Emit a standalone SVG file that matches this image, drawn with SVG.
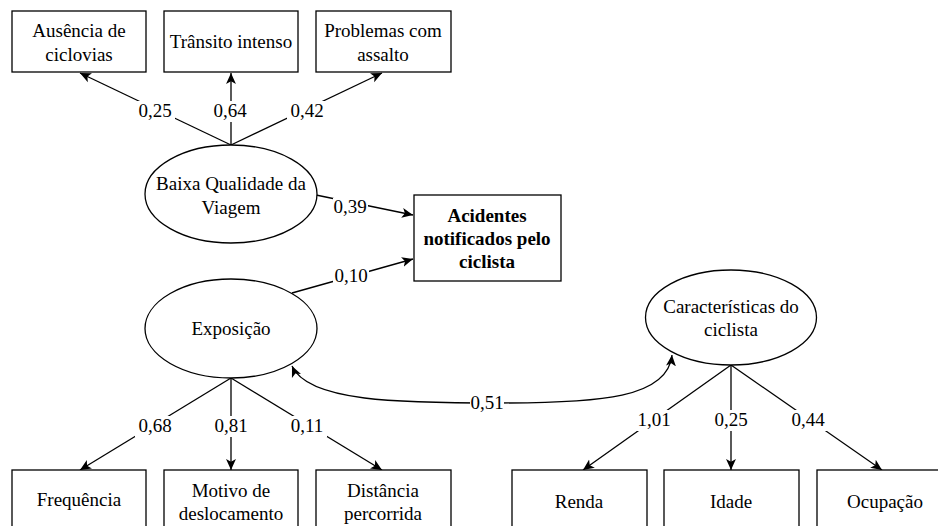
<svg xmlns="http://www.w3.org/2000/svg" width="938" height="526" viewBox="0 0 938 526">
<style>
text{font-family:"Liberation Serif","Times New Roman","DejaVu Serif",serif;font-size:19px;fill:#000;text-anchor:middle}
.b{font-weight:bold}
.box,.ell{fill:#fff;stroke:#000;stroke-width:1.3}
.ln{stroke:#000;stroke-width:1.3;fill:none}
.bg{fill:#fff}
</style>
<defs>
<marker id="ah" viewBox="0 0 10 10" refX="10" refY="5" markerWidth="11" markerHeight="11" markerUnits="userSpaceOnUse" orient="auto">
<path d="M0,0.5 L10,5 L0,9.5 L2.5,5 Z" fill="#000"/>
</marker>
</defs>
<g id="connectors">
<line class="ln" x1="231" y1="145" x2="80" y2="73" marker-end="url(#ah)"/>
<line class="ln" x1="231" y1="145" x2="231" y2="73" marker-end="url(#ah)"/>
<line class="ln" x1="231" y1="145" x2="382" y2="73" marker-end="url(#ah)"/>
<line class="ln" x1="316" y1="195" x2="413" y2="215" marker-end="url(#ah)"/>
<line class="ln" x1="292" y1="293" x2="413" y2="259" marker-end="url(#ah)"/>
<line class="ln" x1="231" y1="378" x2="80" y2="470" marker-end="url(#ah)"/>
<line class="ln" x1="231" y1="378" x2="231" y2="470" marker-end="url(#ah)"/>
<line class="ln" x1="231" y1="378" x2="382" y2="470" marker-end="url(#ah)"/>
<line class="ln" x1="731" y1="365" x2="583" y2="470" marker-end="url(#ah)"/>
<line class="ln" x1="731" y1="365" x2="731" y2="470" marker-end="url(#ah)"/>
<line class="ln" x1="731" y1="365" x2="882" y2="470" marker-end="url(#ah)"/>
<path class="ln" d="M500,403 C400,403 308,402 292,366" marker-end="url(#ah)"/>
<path class="ln" d="M500,403 C600,403 668,398 672,355" marker-end="url(#ah)"/>
<g id="labels">
<rect class="bg" x="135" y="101" width="40" height="21"/><text x="155" y="117">0,25</text>
<rect class="bg" x="210" y="101" width="40" height="21"/><text x="230" y="117">0,64</text>
<rect class="bg" x="287" y="101" width="40" height="21"/><text x="307" y="117">0,42</text>
<rect class="bg" x="333" y="198" width="35" height="18"/><text x="350" y="213">0,39</text>
<rect class="bg" x="333" y="267" width="36" height="18"/><text x="351" y="282">0,10</text>
<rect class="bg" x="135" y="416" width="40" height="21"/><text x="155" y="432">0,68</text>
<rect class="bg" x="211" y="416" width="40" height="21"/><text x="231" y="432">0,81</text>
<rect class="bg" x="287" y="416" width="40" height="21"/><text x="307" y="432">0,11</text>
<rect class="bg" x="470" y="394" width="34" height="18"/><text x="487" y="409">0,51</text>
<rect class="bg" x="634" y="410" width="40" height="21"/><text x="654" y="426">1,01</text>
<rect class="bg" x="711" y="410" width="40" height="21"/><text x="731" y="426">0,25</text>
<rect class="bg" x="788" y="410" width="40" height="21"/><text x="808" y="426">0,44</text>
</g>
</g>
<g id="n-ausencia"><rect class="box" x="12" y="11" width="134" height="61"/><text x="79" y="37">Ausência de</text><text x="79" y="61">ciclovias</text></g>
<g id="n-transito"><rect class="box" x="164" y="11" width="134" height="61"/><text x="231" y="48">Trânsito intenso</text></g>
<g id="n-problemas"><rect class="box" x="316" y="11" width="135" height="61"/><text x="383" y="37">Problemas com</text><text x="383" y="61">assalto</text></g>
<g id="n-baixa"><ellipse class="ell" cx="231" cy="194" rx="86" ry="49"/><text x="231" y="190">Baixa Qualidade da</text><text x="231" y="214">Viagem</text></g>
<g id="n-acidentes"><rect class="box" x="414" y="195" width="147" height="86"/><text class="b" x="487" y="222">Acidentes</text><text class="b" x="487" y="245">notificados pelo</text><text class="b" x="487" y="268">ciclista</text></g>
<g id="n-exposicao"><ellipse class="ell" cx="231" cy="328.5" rx="86" ry="49.5"/><text x="231" y="335">Exposição</text></g>
<g id="n-caracteristicas"><ellipse class="ell" cx="731" cy="317.5" rx="85.5" ry="47.5"/><text x="731" y="313">Características do</text><text x="731" y="336">ciclista</text></g>
<g id="n-frequencia"><rect class="box" x="12" y="470" width="134" height="61"/><text x="79" y="506">Frequência</text></g>
<g id="n-motivo"><rect class="box" x="164" y="470" width="134" height="61"/><text x="231" y="497">Motivo de</text><text x="231" y="520">deslocamento</text></g>
<g id="n-distancia"><rect class="box" x="316" y="470" width="135" height="61"/><text x="383" y="497">Distância</text><text x="383" y="520">percorrida</text></g>
<g id="n-renda"><rect class="box" x="512" y="470" width="135" height="61"/><text x="579" y="508">Renda</text></g>
<g id="n-idade"><rect class="box" x="664" y="470" width="135" height="61"/><text x="731" y="508">Idade</text></g>
<g id="n-ocupacao"><rect class="box" x="817" y="470" width="135" height="61"/><text x="885" y="508">Ocupação</text></g>
</svg>
